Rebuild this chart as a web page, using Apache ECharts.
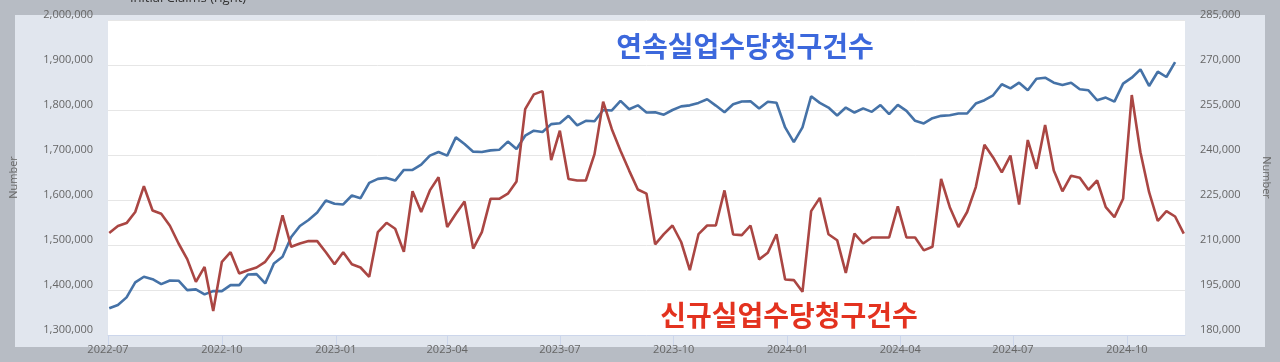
<!DOCTYPE html>
<html><head><meta charset="utf-8">
<script src="https://cdn.jsdelivr.net/npm/echarts@6/dist/echarts.min.js"></script>
<style>html,body{margin:0;padding:0;background:#b7bcc4;}#c{width:1280px;height:362px;}</style>
</head><body><div id="c"></div>
<script>
const weeks = [
'2022-07-02','2022-07-09','2022-07-16','2022-07-23','2022-07-30','2022-08-06','2022-08-13','2022-08-20','2022-08-27','2022-09-03','2022-09-10','2022-09-17','2022-09-24','2022-10-01','2022-10-08','2022-10-15','2022-10-22','2022-10-29','2022-11-05','2022-11-12','2022-11-19','2022-11-26','2022-12-03','2022-12-10','2022-12-17','2022-12-24','2022-12-31',
'2023-01-07','2023-01-14','2023-01-21','2023-01-28','2023-02-04','2023-02-11','2023-02-18','2023-02-25','2023-03-04','2023-03-11','2023-03-18','2023-03-25','2023-04-01','2023-04-08','2023-04-15','2023-04-22','2023-04-29','2023-05-06','2023-05-13','2023-05-20','2023-05-27','2023-06-03','2023-06-10','2023-06-17','2023-06-24','2023-07-01','2023-07-08','2023-07-15','2023-07-22','2023-07-29','2023-08-05','2023-08-12','2023-08-19','2023-08-26','2023-09-02','2023-09-09','2023-09-16','2023-09-23','2023-09-30','2023-10-07','2023-10-14','2023-10-21','2023-10-28','2023-11-04','2023-11-11','2023-11-18','2023-11-25','2023-12-02','2023-12-09','2023-12-16','2023-12-23','2023-12-30',
'2024-01-06','2024-01-13','2024-01-20','2024-01-27','2024-02-03','2024-02-10','2024-02-17','2024-02-24','2024-03-02','2024-03-09','2024-03-16','2024-03-23','2024-03-30','2024-04-06','2024-04-13','2024-04-20','2024-04-27','2024-05-04','2024-05-11','2024-05-18','2024-05-25','2024-06-01','2024-06-08','2024-06-15','2024-06-22','2024-06-29','2024-07-06','2024-07-13','2024-07-20','2024-07-27','2024-08-03','2024-08-10','2024-08-17','2024-08-24','2024-08-31','2024-09-07','2024-09-14','2024-09-21','2024-09-28','2024-10-05','2024-10-12','2024-10-19','2024-10-26','2024-11-02','2024-11-09','2024-11-16'
];
// Continuing claims (left axis), one week shorter than initial claims
const continuingClaims = [
1359300,1366600,1383600,1416800,1429400,1424100,1413000,1421200,1420600,1399800,
1401300,1390300,1397600,1397600,1410800,1410800,1434500,1435200,1414600,1458800,
1473700,1517900,1542300,1555500,1572000,1599000,1591600,1590100,1610000,1604100,
1638000,1646900,1649100,1643200,1666800,1666800,1678600,1698500,1706600,1698500,
1739100,1724300,1707400,1706600,1710300,1711500,1729800,1713300,1742800,1754000,
1751200,1768600,1770400,1787000,1765600,1776000,1775000,1800000,1799000,1820200,
1801800,1810300,1794400,1795100,1789600,1800000,1808000,1810300,1815800,1823900,
1809800,1795100,1812800,1819000,1819500,1803200,1818400,1816100,1761200,1728700,
1761200,1830600,1815800,1805500,1787700,1805500,1794400,1803600,1795900,1811000,
1790700,1811400,1798100,1775900,1770100,1781900,1787000,1788500,1792200,1792200,
1814300,1821700,1832700,1857100,1848200,1860700,1843800,1869600,1871800,1860700,
1855600,1860700,1846000,1843800,1821700,1827600,1818700,1858600,1871800,1890300,
1853400,1885100,1873300,1906500
];
// Initial claims (right axis)
const initialClaims = [
214000,216300,217300,221000,229600,221500,220400,216400,210500,205300,
197700,202700,188000,204400,207600,200500,201600,202500,204400,208300,
219900,209400,210500,211300,211300,207600,203600,207600,203600,202500,
199400,214300,217400,215400,207700,227900,221000,228200,232600,216000,
220400,224500,208800,214300,225400,225400,227100,231200,255300,260200,
261300,238300,248100,232000,231500,231500,240300,257800,248600,241400,
234800,228500,227100,210200,213600,216500,211000,201600,213600,216500,
216500,228200,213500,213300,216500,205200,207400,213600,198500,198300,
194400,221300,225700,213600,211600,200700,213800,210500,212500,212500,
212500,222900,212500,212500,208200,209400,232000,222600,216000,221000,
229300,243400,239200,234200,239800,223500,245000,235400,250000,234800,
227900,233100,232400,228400,231500,222600,219300,225400,260000,240900,
227600,218000,221300,219500,213800
];
const quarterTicks = ['2022-07-01','2022-10-01','2023-01-01','2023-04-01','2023-07-01','2023-10-01','2024-01-01','2024-04-01','2024-07-01','2024-10-01'];
const leftRange = [1300000, 2000000, 100000];
const rightRange = [180000, 285000, 15000];
const xRange = ['2022-07-01', '2024-11-17'];
const legendText = 'Initial Claims (right)';
const axisTitle = 'Number';
const noteContinuing = '연속실업수당청구건수';
const noteInitial = '신규실업수당청구건수';

const toTime = s => { const p = s.split('-'); return Date.UTC(+p[0], +p[1] - 1, +p[2]); };
const tickTimes = quarterTicks.map(toTime);
const tickLabel = v => { const d = new Date(v); return d.getUTCFullYear() + '-' + String(d.getUTCMonth() + 1).padStart(2, '0'); };
const fmt = v => v.toLocaleString('en-US');
const chart = echarts.init(document.getElementById('c'), null, {renderer: 'canvas'});
const labelStyle = {color: '#666666', fontSize: 11, fontFamily: 'Open Sans'};
chart.setOption({
  animation: false,
  backgroundColor: '#b7bcc4',
  textStyle: {fontFamily: 'Open Sans'},
  grid: {left: 104, right: 88, top: 20, bottom: 27, show: true, backgroundColor: '#ffffff', borderWidth: 0},
  graphic: [
    {type: 'rect', z: -100, shape: {x: 15, y: 15, width: 1250, height: 332}, style: {fill: '#e1e6ee'}},
    {type: 'text', z: 100, x: 188, y: -2, style: {text: legendText, fill: '#333333', font: '13px "Open Sans"', textAlign: 'center', textVerticalAlign: 'middle'}},
    {type: 'text', z: 100, x: 745, y: 46, style: {text: noteContinuing, fill: '#3c68dc', font: 'bold 28px "Noto Sans CJK KR"', textAlign: 'center', textVerticalAlign: 'middle'}},
    {type: 'text', z: 100, x: 789, y: 315, style: {text: noteInitial, fill: '#e3321f', font: 'bold 28px "Noto Sans CJK KR"', textAlign: 'center', textVerticalAlign: 'middle'}}
  ],
  xAxis: {
    type: 'value', min: toTime(xRange[0]), max: toTime(xRange[1]),
    axisLine: {show: true, lineStyle: {color: '#ccd6eb', width: 1}},
    axisTick: {show: true, length: 11, lineStyle: {color: '#ccd6eb'}, customValues: tickTimes},
    splitLine: {show: false},
    axisLabel: Object.assign({}, labelStyle, {margin: 9, customValues: tickTimes, hideOverlap: false, formatter: tickLabel})
  },
  yAxis: [
    {type: 'value', min: leftRange[0], max: leftRange[1], interval: leftRange[2], position: 'left',
     name: axisTitle, nameLocation: 'middle', nameGap: 89, nameRotate: 90,
     nameTextStyle: {color: '#666666', fontSize: 11, fontFamily: 'Open Sans'},
     axisLine: {show: false}, axisTick: {show: false},
     splitLine: {lineStyle: {color: '#e6e6e6'}},
     axisLabel: Object.assign({}, labelStyle, {margin: 15, verticalAlign: 'bottom', formatter: fmt})},
    {type: 'value', min: rightRange[0], max: rightRange[1], interval: rightRange[2], position: 'right',
     name: axisTitle, nameLocation: 'middle', nameGap: 76, nameRotate: -90,
     nameTextStyle: {color: '#666666', fontSize: 11, fontFamily: 'Open Sans'},
     axisLine: {show: false}, axisTick: {show: false},
     splitLine: {show: false},
     axisLabel: Object.assign({}, labelStyle, {margin: 15, verticalAlign: 'bottom', formatter: fmt})}
  ],
  series: [
    {name: 'Continued Claims (left)', type: 'line', yAxisIndex: 0, symbol: 'none',
     lineStyle: {color: '#4572a7', width: 2.6}, itemStyle: {color: '#4572a7'},
     data: continuingClaims.map((v, i) => [toTime(weeks[i]), v])},
    {name: legendText, type: 'line', yAxisIndex: 1, symbol: 'none',
     lineStyle: {color: '#aa4643', width: 2.6}, itemStyle: {color: '#aa4643'},
     data: initialClaims.map((v, i) => [toTime(weeks[i]), v])}
  ]
});
</script></body></html>
